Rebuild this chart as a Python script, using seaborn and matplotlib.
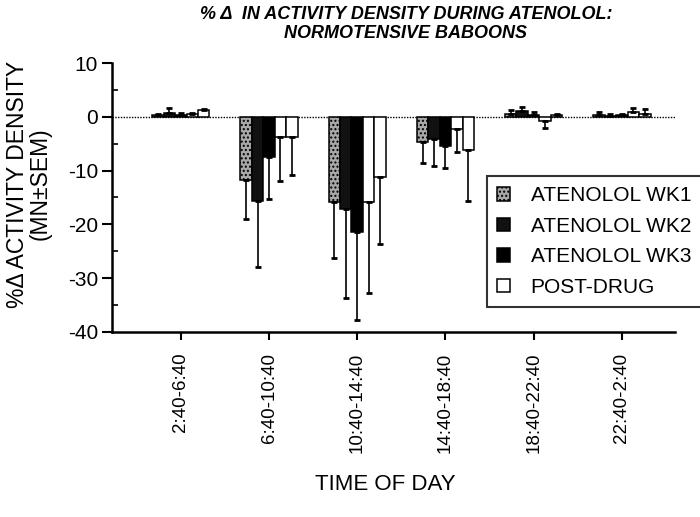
import numpy as np
import pandas as pd
import matplotlib
matplotlib.use("Agg")
import matplotlib.pyplot as plt
from matplotlib.ticker import MultipleLocator
import seaborn as sns

# --- data (mean % change and SEM) ---
times = ["2:40-6:40", "6:40-10:40", "10:40-14:40", "14:40-18:40",
         "18:40-22:40", "22:40-2:40"]
conditions = ["ATENOLOL WK1", "ATENOLOL WK2", "ATENOLOL WK3",
              "POST-DRUG", "POST-DRUG WK2"]

wk1 = [0.3, -11.8, -15.8, -4.6, 0.5, 0.4]
wk1_sem = [0.3, 7.2, 10.5, 4.0, 0.8, 0.5]
wk2 = [0.8, -15.6, -17.1, -4.2, 1.0, 0.1]
wk2_sem = [0.8, 12.4, 16.5, 5.0, 0.8, 0.4]
wk3 = [0.3, -7.4, -21.5, -5.5, 0.3, 0.3]
wk3_sem = [0.4, 7.9, 16.2, 4.0, 0.6, 0.3]
post = [0.5, -3.8, -15.8, -2.3, -0.8, 0.9]
post_sem = [0.3, 8.1, 16.9, 4.3, 1.2, 0.8]
post2 = [1.2, -3.8, -11.2, -6.2, 0.3, 0.6]
post2_sem = [0.3, 7.0, 12.4, 9.4, 0.2, 0.8]

means = [wk1, wk2, wk3, post, post2]
sems = [wk1_sem, wk2_sem, wk3_sem, post_sem, post2_sem]
colors = ["#a8a8a8", "#111111", "#000000", "#ffffff", "#ffffff"]

df = pd.DataFrame({
    "time": np.tile(times, len(conditions)),
    "condition": np.repeat(conditions, len(times)),
    "value": np.concatenate(means),
})

sns.set_style("ticks")
plt.rcParams["font.family"] = ["Liberation Sans", "DejaVu Sans"]
plt.rcParams["axes.unicode_minus"] = False
for key in ["text.color", "axes.labelcolor", "xtick.color", "ytick.color",
            "axes.edgecolor"]:
    plt.rcParams[key] = "black"

fig = plt.figure(figsize=(7.0, 5.17), dpi=100)
ax = fig.add_axes([0.16, 0.358, 0.804, 0.52])

sns.barplot(data=df, x="time", y="value", hue="condition", order=times,
            hue_order=conditions, palette=colors, edgecolor="black",
            linewidth=1.1, width=0.65, errorbar=None, ax=ax)

# one-sided SEM bars, pointing away from zero
for cont, sem in zip(ax.containers, sems):
    for bar, s in zip(cont, sem):
        x = bar.get_x() + bar.get_width() / 2
        h = bar.get_height()
        lo, hi = (s, 0) if h < 0 else (0, s)
        ax.errorbar(x, h, yerr=[[lo], [hi]], fmt="none", ecolor="black",
                    elinewidth=1.2, capsize=2.5, capthick=2)

# stipple the week-1 bars
for bar in ax.containers[0]:
    bar.set_hatch("....")

ax.axhline(0, color="black", lw=1, ls=(0, (1, 1)), zorder=0)

ax.set_ylim(-40, 10)
ax.set_xlim(-0.78, 5.6)
ax.yaxis.set_major_locator(MultipleLocator(10))
ax.yaxis.set_minor_locator(MultipleLocator(5))
ax.tick_params(axis="y", which="major", direction="out", length=7,
               width=1.5, labelsize=15, pad=3)
ax.tick_params(axis="y", which="minor", direction="in", length=4, width=1.2)
ax.tick_params(axis="x", direction="out", length=6, width=1.5,
               labelsize=13.5, labelrotation=90, pad=9)
sns.despine(ax=ax)
for side in ["left", "bottom"]:
    ax.spines[side].set_linewidth(1.8)
ax.set_xlabel("")
ax.set_ylabel("")

handles, labels = ax.get_legend_handles_labels()
handles, labels = handles[:4], labels[:4]
handles[0].set_hatch("....")
leg = ax.legend(handles, labels, loc="upper left",
                bbox_to_anchor=(487 / 700, 1 - 176 / 517),
                bbox_transform=fig.transFigure, fontsize=15,
                frameon=True, fancybox=False, edgecolor="black",
                handlelength=0.6, handleheight=0.6, handletextpad=1.0,
                labelspacing=0.55, borderpad=0.5, borderaxespad=0)
leg.get_frame().set_linewidth(1.5)

fig.text(0.58, 0.988,
         "% \u0394  IN ACTIVITY DENSITY DURING ATENOLOL:\nNORMOTENSIVE BABOONS",
         ha="center", va="top", fontsize=13, fontweight="bold",
         fontstyle="italic", linespacing=1.1)
fig.text(29 / 700, 1 - 184 / 517, "%\u0394 ACTIVITY DENSITY\n(MN\u00b1SEM)",
         rotation=90, ha="center", va="center", fontsize=16.5,
         multialignment="center", linespacing=1.0)
fig.text(385 / 700, 1 - 485 / 517, "TIME OF DAY", ha="center", va="center",
         fontsize=16)

fig.savefig("out.png", dpi=100)
